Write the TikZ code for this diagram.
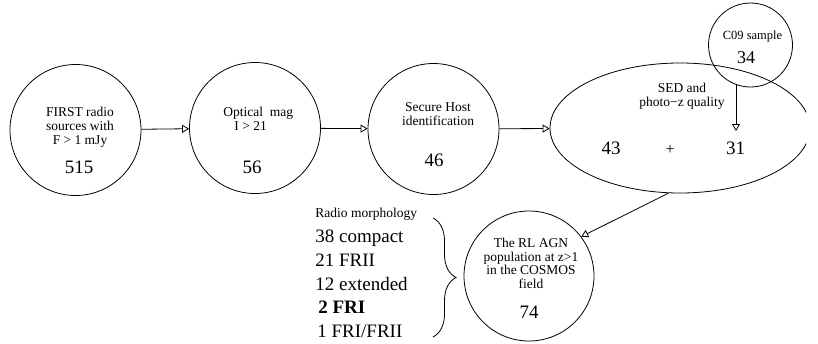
\documentclass[tikz,border=0pt]{standalone}
\usepackage{fontspec}
\setmainfont{Liberation Serif}
\usetikzlibrary{arrows.meta,shapes.geometric,decorations.pathreplacing}

\begin{document}
\begin{tikzpicture}[x=1pt,y=-1pt,line width=0.8pt,
  >={Triangle[open,length=7pt,width=8pt]},
  stage node/.style={circle,draw,inner sep=0pt,minimum size=131pt},
  caption text/.style={inner sep=0pt,align=center,anchor=north,
    font=\fontsize{13.5}{14}\selectfont},
  count text/.style={inner sep=0pt,anchor=base,font=\fontsize{19}{19}\selectfont}]

  \useasboundingbox (0,0) rectangle (818,343);

  \node[stage node] (first) at (75.5,130) {};
  \node[stage node] (optical) at (255,128) {};
  \node[stage node] (host) at (433.5,129) {};
  \begin{scope}
    \clip (0,0) rectangle (806,343);
    \node[ellipse,draw,inner sep=0pt,minimum width=260pt,minimum height=130pt] (sed) at (680,128) {};
  \end{scope}
  \node[circle,draw,inner sep=0pt,minimum size=84pt] (c09) at (750.5,45) {};
  \node[stage node,minimum size=130pt] (agn) at (529,276) {};

  \node[caption text] (firsttxt) at (80,106.5) {FIRST radio\\sources with\\F > 1 mJy};
  \node[count text] (firstnum) at (79,173) {515};
  \node[caption text,anchor=north west,align=left] (opticaltxt) at (223,107) {Optical\ \ mag\\\hspace*{11pt}I > 21};
  \node[count text] (opticalnum) at (252,173) {56};
  \node[caption text] (hosttxt) at (438,102) {Secure Host\\identification};
  \node[count text] (hostnum) at (434,166) {46};
  \node[caption text] (sedtxt) at (682,83) {SED and\\photo−z quality};
  \node[count text] (n43) at (611,154) {43};
  \node[count text,font=\fontsize{16}{16}\selectfont] (plus) at (670,154) {+};
  \node[count text] (n31) at (735.5,154) {31};
  \node[caption text,font=\fontsize{12.5}{14}\selectfont] (c09txt) at (752.5,30) {C09 sample};
  \node[count text,font=\fontsize{18}{18}\selectfont] (c09num) at (746,63) {34};
  \node[caption text,font=\fontsize{13.5}{13.5}\selectfont] (agntxt) at (531,238) {The RL AGN\\population at z>1\\in the COSMOS\\field};
  \node[count text] (agnnum) at (529,318) {74};

  \node[anchor=north west,inner sep=0pt,align=left,font=\fontsize{19}{23.75}\selectfont] (morph) at (315,208)
    {{\fontsize{13.5}{14}\selectfont Radio morphology}\\[1pt]38 compact\\21 FRII\\12 extended\\\hspace*{3pt}\textbf{2 FRI}\\\hspace*{2pt}1 FRI/FRII};
  \draw[decorate,decoration={brace,amplitude=23pt}] (433,218) -- (433,337);

  \draw[->] (first) -- (optical);
  \draw[->] (optical) -- (host);
  \draw[->] (host) -- (sed);
  \draw[->,shorten >=10pt] (c09.250) -- (c09.250 |- n31.north);
  \draw[->] (sed.260) -- (agn.37);
\end{tikzpicture}
\end{document}
